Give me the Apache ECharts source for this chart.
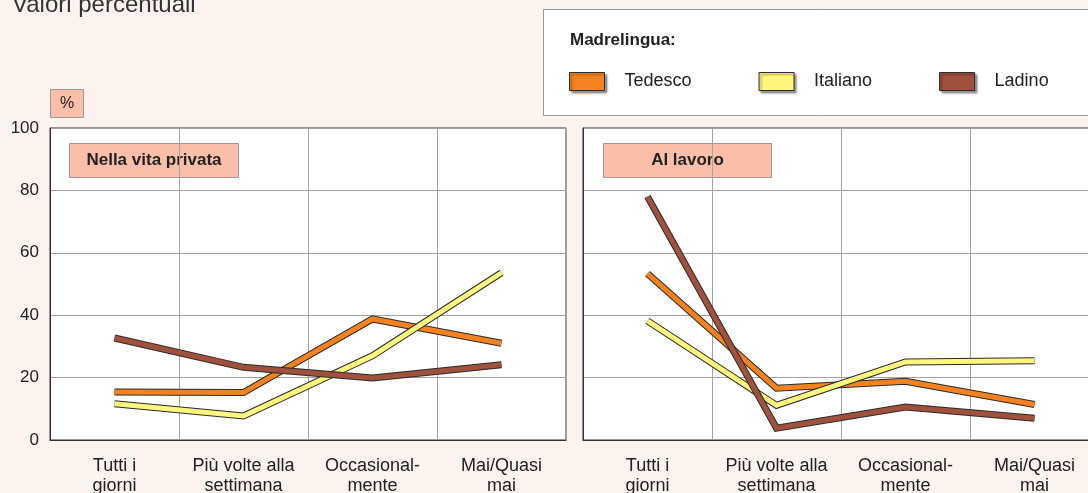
<!DOCTYPE html>
<html>
<head>
    <meta charset="utf-8" />
    <script src="https://cdn.jsdelivr.net/npm/echarts@6/dist/echarts.min.js"></script>
    <title></title>
    <style>
        html, body { margin: 0; padding: 0; background: #fdf3ee; }
    </style>
</head>
<body>
    <div id="main" style="width: 1088px;height:493px;"></div>
</body>
</html>
<script>
    // categorie (asse x)
    var categories = ['Tutti i\ngiorni', 'Più volte alla\nsettimana', 'Occasional-\nmente', 'Mai/Quasi\nmai'];
    var yTicks = [0, 20, 40, 60, 80, 100];

    // Nella vita privata
    var privTedesco = [15.4, 15.2, 38.8, 31.0];
    var privItaliano = [11.6, 7.7, 27.0, 53.6];
    var privLadino = [32.7, 23.3, 19.9, 24.1];

    // Al lavoro
    var lavTedesco = [53.3, 16.6, 18.8, 11.4];
    var lavItaliano = [38.2, 11.1, 25.0, 25.4];
    var lavLadino = [78.0, 3.8, 10.6, 7.0];

    var names = ['Tedesco', 'Italiano', 'Ladino'];
    var colors = ['#f5821f', '#fef57d', '#a0513b'];

    var FONT = '"Liberation Sans", Arial, sans-serif';
    var chart = echarts.init(document.getElementById('main'));

    function serie(name, data, idx, color, outline) {
        return {
            name: outline ? name + '_bordo' : name,
            type: 'line',
            xAxisIndex: idx,
            yAxisIndex: idx,
            data: data,
            symbol: 'none',
            silent: true,
            animation: false,
            lineStyle: {
                color: outline ? '#2b2b2b' : color,
                width: outline ? 7 : 5,
                cap: 'butt',
                join: 'miter'
            },
            itemStyle: { color: color }
        };
    }

    var series = [];
    var sets = [[privTedesco, privItaliano, privLadino], [lavTedesco, lavItaliano, lavLadino]];
    for (var g = 0; g < 2; g++) {
        for (var i = 0; i < 3; i++) {
            series.push(serie(names[i], sets[g][i], g, colors[i], true));
            series.push(serie(names[i], sets[g][i], g, colors[i], false));
        }
    }

    function xAx(idx) {
        return {
            type: 'category',
            gridIndex: idx,
            data: categories,
            boundaryGap: true,
            axisLine: { lineStyle: { color: '#333', width: 1 } },
            axisTick: { show: false },
            axisLabel: { color: '#222', fontSize: 18, lineHeight: 20, margin: 16, fontFamily: FONT, interval: 0 },
            splitLine: { show: true, interval: 0, lineStyle: { color: '#a3a3a3', width: 1 } }
        };
    }
    function yAx(idx, showLabels) {
        return {
            type: 'value',
            gridIndex: idx,
            min: yTicks[0],
            max: yTicks[yTicks.length - 1],
            interval: yTicks[1] - yTicks[0],
            axisLine: { show: true, lineStyle: { color: '#333', width: 1 } },
            axisTick: { show: false },
            axisLabel: { show: showLabels, color: '#222', fontSize: 17, margin: 11, fontFamily: FONT },
            splitLine: { show: true, lineStyle: { color: '#a3a3a3', width: 1 } }
        };
    }

    function etichetta(x, y, w, h, txt, bold, size) {
        return {
            type: 'group',
            left: x, top: y,
            children: [
                { type: 'rect', shape: { x: 0, y: 0, width: w, height: h }, style: { fill: '#fbbea8', stroke: '#9a9a9a', lineWidth: 1 } },
                { type: 'text', x: w / 2, y: h / 2, style: { text: txt, fill: '#222', font: (bold ? 'bold ' : '') + size + 'px ' + FONT, textAlign: 'center', textVerticalAlign: 'middle' } }
            ]
        };
    }

    option = {
        backgroundColor: '#fdf3ee',
        animation: false,
        grid: [
            { left: 50, top: 128, width: 516, height: 312, outerBoundsMode: 'none', show: true, backgroundColor: '#fff', borderColor: '#333', borderWidth: 1 },
            { left: 583, top: 128, width: 516, height: 312, outerBoundsMode: 'none', show: true, backgroundColor: '#fff', borderColor: '#333', borderWidth: 1 }
        ],
        xAxis: [xAx(0), xAx(1)],
        yAxis: [yAx(0, true), yAx(1, false)],
        legend: {
            left: 569,
            top: 72,
            padding: 0,
            itemWidth: 35,
            itemHeight: 18,
            itemGap: 67,
            icon: 'rect',
            selectedMode: false,
            textStyle: { color: '#222', fontSize: 18, fontFamily: FONT, padding: [0, 0, 0, 15] },
            data: names.map(function (n, i) {
                return {
                    name: n,
                    itemStyle: { color: colors[i], borderColor: '#2b2b2b', borderWidth: 1, shadowColor: 'rgba(0,0,0,0.4)', shadowOffsetX: 2, shadowOffsetY: 2, shadowBlur: 2 }
                };
            })
        },
        graphic: [
            { type: 'text', left: 12, top: -7, style: { text: 'Valori percentuali', fill: '#333', font: '24px ' + FONT } },
            { type: 'rect', left: 543, top: 9, z: -1, shape: { width: 560, height: 106 }, style: { fill: '#fff', stroke: '#9a9a9a', lineWidth: 1 } },
            { type: 'text', left: 570, top: 32, style: { text: 'Madrelingua:', fill: '#222', font: 'bold 17px ' + FONT } },
            etichetta(50, 89, 33, 28, '%', false, 16),
            etichetta(69, 143, 169, 34, 'Nella vita privata', true, 17),
            etichetta(603, 143, 168, 34, 'Al lavoro', true, 17)
        ],
        series: series
    };

    chart.setOption(option);
</script>
